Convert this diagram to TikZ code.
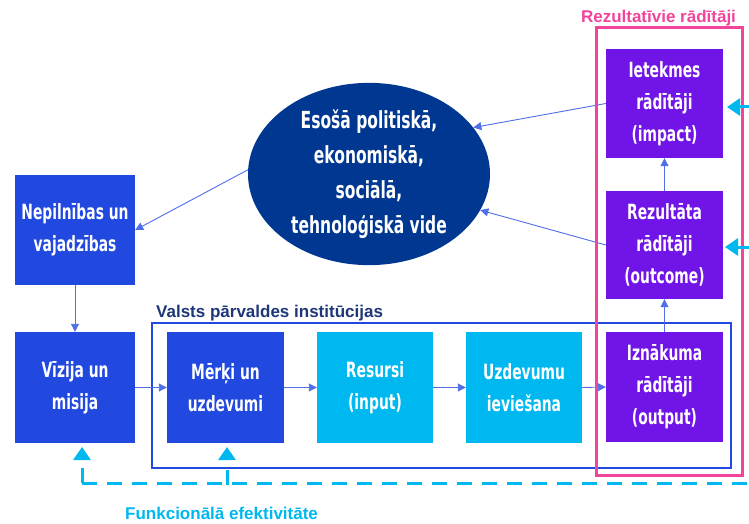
\documentclass[tikz,border=0pt]{standalone}
\usepackage{fontspec}
\setmainfont{DejaVu Sans}
\newfontfamily\condfont{DejaVu Sans}[FakeStretch=0.66]
\newfontfamily\labelfont{Liberation Sans}[BoldFont={Liberation Sans Bold}]
\usetikzlibrary{arrows.meta,shapes.geometric}
\definecolor{boxblue}{RGB}{33,73,224}
\definecolor{boxcyan}{RGB}{0,184,240}
\definecolor{boxpurple}{RGB}{112,20,232}
\definecolor{ellnavy}{RGB}{0,56,145}
\definecolor{framepink}{RGB}{242,68,155}
\definecolor{connblue}{RGB}{80,110,232}
\definecolor{labelnavy}{RGB}{30,55,120}
\tikzset{
  box/.style={rectangle, inner sep=0pt, text=white, align=center,
    font=\condfont\bfseries\fontsize{21}{32}\selectfont},
  bluebox/.style={box, fill=boxblue, minimum width=120pt, minimum height=111pt},
  cyanbox/.style={box, fill=boxcyan, minimum width=116pt, minimum height=111pt},
  purplebox/.style={box, fill=boxpurple, minimum width=117pt, minimum height=109pt},
  conn/.style={draw=connblue, line width=0.9pt, -{Triangle[width=8pt,length=8pt]}, color=connblue},
  cyanline/.style={draw=boxcyan, line width=3pt},
  cyandash/.style={cyanline, dash pattern=on 15pt off 10pt},
  cyanarrow/.style={-{Triangle[width=17pt,length=13pt]}, boxcyan},
  biglabel/.style={font=\labelfont\bfseries\fontsize{17}{20}\selectfont, inner sep=0pt},
}
\begin{document}
\begin{tikzpicture}[x=1pt,y=-1pt]
\useasboundingbox (0,0) rectangle (749,524);
\fill[white] (0,0) rectangle (749,524);

% ellipse
\node[ellipse, fill=ellnavy, minimum width=242pt, minimum height=182pt, inner sep=0pt,
  text=white, align=center, font=\condfont\bfseries\fontsize{23.5}{35}\selectfont] (ell) at (369,174)
  {Esošā politiskā,\\ekonomiskā,\\sociālā,\\tehnoloģiskā vide};

% boxes
\node[bluebox, minimum height=110pt] (nep) at (75,230) {Nepilnības un\\vajadzības};
\node[bluebox] (viz) at (75,387.5) {Vīzija un\\misija};
\node[bluebox, minimum width=117pt] (mer) at (225.5,387.5) {Mērķi un\\uzdevumi};
\node[cyanbox] (res) at (375,387.5) {Resursi\\(input)};
\node[cyanbox] (uzd) at (524,387.5) {Uzdevumu\\ieviešana};
\node[purplebox, minimum height=110pt] (izn) at (664.5,387) {Iznākuma\\rādītāji\\(output)};
\node[purplebox, minimum height=108pt] (rez) at (664.5,245) {Rezultāta\\rādītāji\\(outcome)};
\node[purplebox] (iet) at (664.5,103.5) {Ietekmes\\rādītāji\\(impact)};

% institution frame
\draw[boxblue, line width=2.5pt] (152,323) rectangle (731,468);
\node[biglabel, text=labelnavy, anchor=base west] (valsts) at (156,317) {Valsts pārvaldes institūcijas};

% thin connectors
\draw[conn] (ell.178) -- (nep.east);
\draw[conn] (nep.south) -- (viz.north);
\draw[conn] (viz.east) -- (mer.west);
\draw[conn] (mer.east) -- (res.west);
\draw[conn] (res.east) -- (uzd.west);
\draw[conn] (uzd.east) -- (izn.west);
\draw[conn] (izn.north) -- (rez.south);
\draw[conn] (rez.north) -- (iet.south);
\draw[conn] (iet.west) -- (ell.24);
\draw[conn] (rez.west) -- (ell.-18);

% result indicators frame
\draw[framepink, line width=3pt] (596,28) rectangle (742,475);
\node[biglabel, text=framepink, anchor=base] (rlabel) at (658.5,23) {Rezultatīvie rādītāji};

% functional efficiency feedback
\coordinate (dl) at (82,483);
\coordinate (dm) at (227,485);
\coordinate (dr) at (749,483);
\coordinate (tl) at (82,447);
\coordinate (tm) at (227,447);
\draw[cyandash] (dl) -- (dr);
\draw[cyandash, cyanarrow] (dl) -- (tl);
\draw[cyandash, cyanarrow] (dm) -- (tm);
\coordinate (r1) at (752,107);
\coordinate (r2) at (752,247);
\coordinate (t1) at (727,107);
\coordinate (t2) at (725,247);
\draw[cyanline, cyanarrow] (r1) -- (t1);
\draw[cyanline, cyanarrow] (r2) -- (t2);
\node[biglabel, text=boxcyan, anchor=base west] (flabel) at (125,519) {Funkcionālā efektivitāte};
\end{tikzpicture}
\end{document}
